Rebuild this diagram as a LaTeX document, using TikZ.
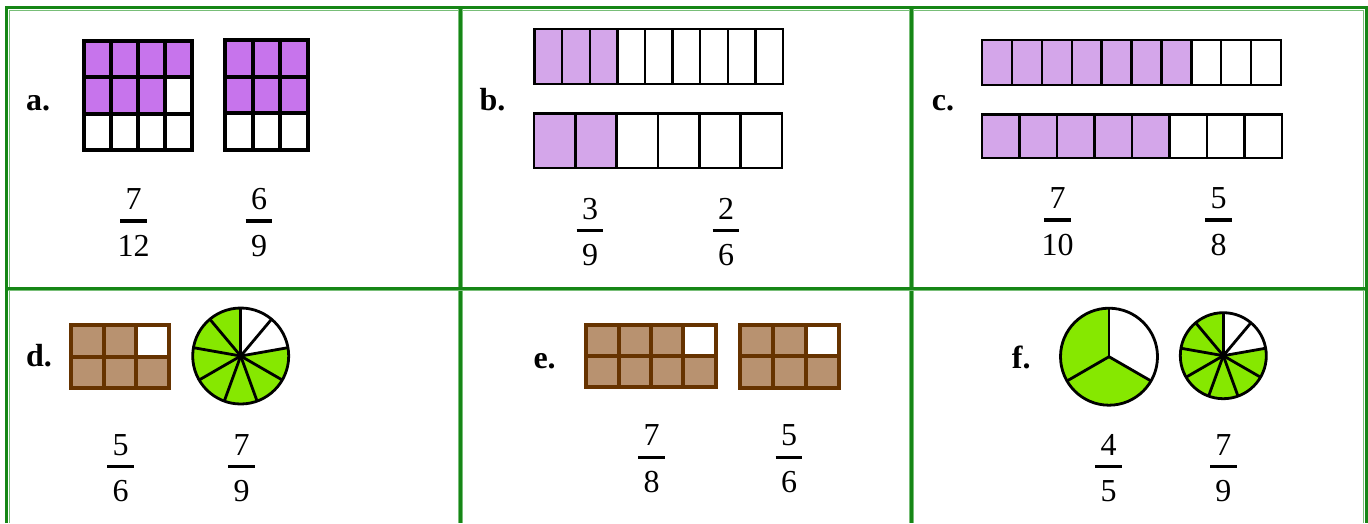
\documentclass[tikz,border=0pt]{standalone}
\usepackage{fontspec}
\setmainfont{Liberation Serif}

\definecolor{tablegreen}{RGB}{22,134,22}
\definecolor{tableedge}{RGB}{120,190,120}
\definecolor{violetfill}{RGB}{199,116,236}
\definecolor{lilacfill}{RGB}{212,166,234}
\definecolor{brownfill}{RGB}{184,146,112}
\definecolor{brownline}{RGB}{102,51,0}
\definecolor{limefill}{RGB}{134,232,0}

% cells of a fraction model: origin, cell width, cell height, columns, rows, shaded cells, fill, lines
\newcommand{\cellmodel}[8]{%
  \begin{scope}[shift={#1}, x=#2pt, y=-#3pt]
    \foreach \c/\r in {#6} \fill[#7] (\c-1,\r-1) rectangle (\c,\r);
    \foreach \c in {1,...,#4} \foreach \r in {1,...,#5} \draw[#8] (\c-1,\r-1) rectangle (\c,\r);
  \end{scope}}

% written fraction: name, x, y of the bar, numerator, denominator
\newcommand{\fracnode}[5]{%
  \node[digit] (#1-num) at (#2,#3-11.5) {#4};
  \node[digit] (#1-den) at (#2,#3+35) {#5};
  \draw[fracbar] (#2-13.3,#3) -- (#2+13.3,#3);}

% pie in nine parts, seven shaded
\newcommand{\ninepie}[2]{%
  \fill[limefill] (#1) -- ++(90:#2pt) arc[start angle=90, end angle=370, radius=#2pt] -- cycle;
  \foreach \a in {10,50,...,330} \draw[pieline] (#1) -- ++(\a:#2pt);
  \draw[pieline] (#1) circle[radius=#2pt];}

\begin{document}
\begin{tikzpicture}[
    x=1pt, y=-1pt,
    digit/.style={font=\fontsize{32}{38}\selectfont, inner sep=0pt, anchor=base},
    tag/.style={font=\fontsize{32}{38}\selectfont\bfseries, inner sep=0pt, anchor=base west},
    fracbar/.style={line width=3.2pt},
    thickgrid/.style={draw=black, line width=4pt},
    thingrid/.style={draw=black, line width=2.4pt},
    browngrid/.style={draw=brownline, line width=4pt},
    pieline/.style={draw=black, line width=2.8pt, line join=round},
    outer/.style={draw=tablegreen, line width=3pt},
    inner/.style={draw=tableedge, line width=1pt},
    rule/.style={draw=tableedge, line width=0.8pt, double=tablegreen, double distance=2.6pt}
]
\useasboundingbox (0,0) rectangle (1368,523);

% table
\draw[outer] (6.5,523) -- (6.5,7.5) -- (1366,7.5) -- (1366,523);
\draw[inner] (9.5,523) -- (9.5,10.5) -- (1363,10.5) -- (1363,523);
\draw[rule] (460.5,9) -- (460.5,523);
\draw[rule] (911.5,9) -- (911.5,523);
\draw[rule] (8,288.7) -- (1364.5,288.7);

% a.
\node[tag] (tagA) at (26,110) {a.};
\cellmodel{(84,41)}{27}{36.33}{4}{3}{1/1,2/1,3/1,4/1,1/2,2/2,3/2}{violetfill}{thickgrid}
\cellmodel{(225,40)}{27.67}{36.67}{3}{3}{1/1,2/1,3/1,1/2,2/2,3/2}{violetfill}{thickgrid}
\fracnode{aL}{133.5}{221}{7}{12}
\fracnode{aR}{259}{221}{6}{9}

% b.
\node[tag] (tagB) at (479.3,110) {b.};
\cellmodel{(534.5,29)}{27.61}{55}{9}{1}{1/1,2/1,3/1}{lilacfill}{thingrid}
\cellmodel{(534,113.5)}{41.33}{54.5}{6}{1}{1/1,2/1}{lilacfill}{thingrid}
\fracnode{bL}{590}{230.7}{3}{9}
\fracnode{bR}{726}{230.7}{2}{6}

% c.
\node[tag] (tagC) at (931.7,110) {c.};
\cellmodel{(982,40)}{29.9}{45}{10}{1}{1/1,2/1,3/1,4/1,5/1,6/1,7/1}{lilacfill}{thingrid}
\cellmodel{(982,114.5)}{37.5}{43.5}{8}{1}{1/1,2/1,3/1,4/1,5/1}{lilacfill}{thingrid}
\fracnode{cL}{1057.5}{220}{7}{10}
\fracnode{cR}{1218.7}{220}{5}{8}

% d.
\node[tag] (tagD) at (26,366.7) {d.};
\cellmodel{(71.3,325)}{32.47}{31.5}{3}{2}{1/1,2/1,1/2,2/2,3/2}{brownfill}{browngrid}
\coordinate (pieD) at (240.7,356);
\ninepie{pieD}{48}
\fracnode{dL}{120.5}{466.7}{5}{6}
\fracnode{dR}{241.5}{466.7}{7}{9}

% e.
\node[tag] (tagE) at (533.3,368.3) {e.};
\cellmodel{(586.3,324.7)}{32.35}{31.15}{4}{2}{1/1,2/1,3/1,1/2,2/2,3/2,4/2}{brownfill}{browngrid}
\cellmodel{(740.3,324.7)}{32.8}{31.65}{3}{2}{1/1,2/1,1/2,2/2,3/2}{brownfill}{browngrid}
\fracnode{eL}{651.7}{457.3}{7}{8}
\fracnode{eR}{789}{457.3}{5}{6}

% f.
\node[tag] (tagF) at (1011.7,368.3) {f.};
\coordinate (pieF) at (1109,356.7);
\fill[limefill] (pieF) -- ++(90:48.5pt) arc[start angle=90, end angle=330, radius=48.5pt] -- cycle;
\foreach \a in {90,210,330} \draw[pieline] (pieF) -- ++(\a:48.5pt);
\draw[pieline] (pieF) circle[radius=48.5pt];
\coordinate (pieG) at (1223.3,355.7);
\ninepie{pieG}{43}
\fracnode{fL}{1108.5}{466.7}{4}{5}
\fracnode{fR}{1223.3}{466.7}{7}{9}
\end{tikzpicture}
\end{document}
